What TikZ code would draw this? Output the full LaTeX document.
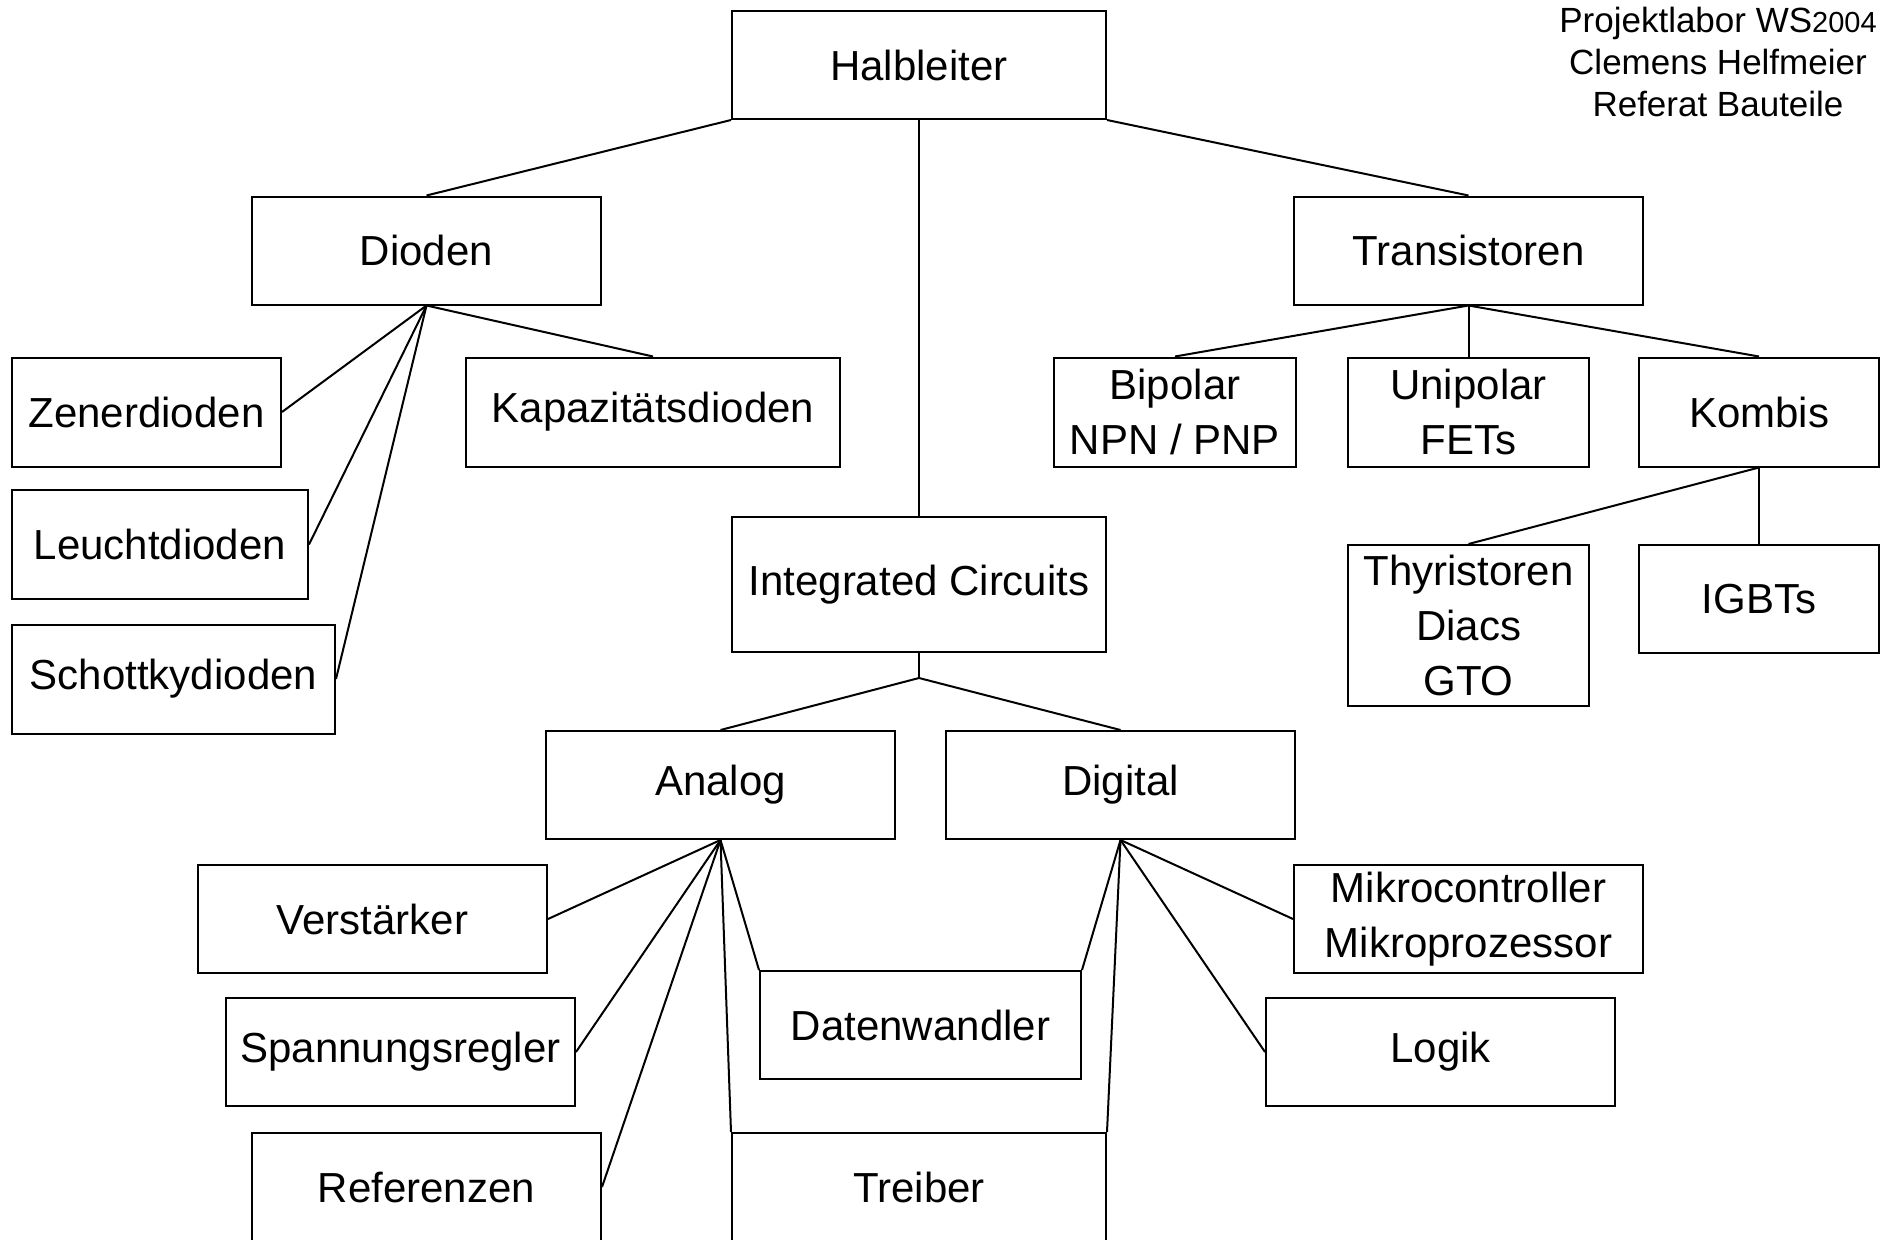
\documentclass[tikz,border=0pt]{standalone}
\usepackage{fontspec}
\setmainfont{Liberation Sans}
\begin{document}
\begin{tikzpicture}[x=1pt,y=-1pt,
  box/.style={draw, line width=2pt, rectangle, inner sep=0pt, align=center,
    font=\fontsize{42}{55}\selectfont, minimum height=108pt},
  conn/.style={line width=2pt}]
\clip (0,0) rectangle (1881,1239);
\fill[white] (0,0) rectangle (1881,1239);

\node[box, minimum width=374pt] (halb) at (919,65) {Halbleiter};
\node[box, minimum width=349pt] (dioden) at (426.5,250.5) {Dioden};
\node[box, minimum width=349pt] (trans) at (1468.5,250.5) {Transistoren};
\node[box, minimum width=269pt, minimum height=109pt] (zener) at (146.5,412) {Zenerdioden};
\node[box, minimum width=374pt, minimum height=109pt] (kapaz) at (653,412) {Kapazitätsdioden};
\node[box, minimum width=296pt, minimum height=109pt] (leucht) at (160,544.5) {Leuchtdioden};
\node[box, minimum width=323pt, minimum height=109pt] (schottky) at (173.5,679) {Schottkydioden};
\node[box, minimum width=242pt, minimum height=109pt] (bipolar) at (1175,412) {Bipolar\\NPN / PNP};
\node[box, minimum width=241pt, minimum height=109pt] (unipolar) at (1468.5,412) {Unipolar\\FETs};
\node[box, minimum width=240pt, minimum height=109pt] (kombis) at (1759,412) {Kombis};
\node[box, minimum width=374pt, minimum height=135pt] (ic) at (919,584.5) {Integrated Circuits};
\node[box, minimum width=241pt, minimum height=161pt] (thyr) at (1468.5,625.5) {Thyristoren\\Diacs\\GTO};
\node[box, minimum width=240pt] (igbt) at (1759,599) {IGBTs};
\node[box, minimum width=349pt] (analog) at (720.5,785) {Analog};
\node[box, minimum width=349pt] (digital) at (1120.5,785) {Digital};
\node[box, minimum width=349pt] (verst) at (372.5,919) {Verstärker};
\node[box, minimum width=349pt] (mikro) at (1468.5,919) {Mikrocontroller\\Mikroprozessor};
\node[box, minimum width=321pt] (daten) at (920.5,1025) {Datenwandler};
\node[box, minimum width=349pt] (spann) at (400.5,1052) {Spannungsregler};
\node[box, minimum width=349pt] (logik) at (1440.5,1052) {Logik};
\node[box, minimum width=349pt] (ref) at (426.5,1187) {Referenzen};
\node[box, minimum width=374pt] (treiber) at (919,1187) {Treiber};

\node[align=center, anchor=north, inner sep=0pt, font=\fontsize{35}{42}\selectfont]
  (stamp) at (1718,7) {Projektlabor WS{\fontsize{29}{42}\selectfont 2004}\\Clemens Helfmeier\\Referat Bauteile};

\coordinate (icb) at (919,678);

\draw[conn] (halb.south west) -- (dioden.north);
\draw[conn] (halb.south east) -- (trans.north);
\draw[conn] (halb.south) -- (ic.north);

\draw[conn] (dioden.south) -- (zener.east);
\draw[conn] (dioden.south) -- (leucht.east);
\draw[conn] (dioden.south) -- (schottky.east);
\draw[conn] (dioden.south) -- (kapaz.north);

\draw[conn] (trans.south) -- (bipolar.north);
\draw[conn] (trans.south) -- (unipolar.north);
\draw[conn] (trans.south) -- (kombis.north);

\draw[conn] (kombis.south) -- (thyr.north);
\draw[conn] (kombis.south) -- (igbt.north);

\draw[conn] (ic.south) -- (icb);
\draw[conn] (icb) -- (analog.north);
\draw[conn] (icb) -- (digital.north);

\draw[conn] (analog.south) -- (verst.east);
\draw[conn] (analog.south) -- (spann.east);
\draw[conn] (analog.south) -- (ref.east);
\draw[conn] (analog.south) -- (daten.north west);
\draw[conn] (analog.south) -- (treiber.north west);

\draw[conn] (digital.south) -- (daten.north east);
\draw[conn] (digital.south) -- (treiber.north east);
\draw[conn] (digital.south) -- (mikro.west);
\draw[conn] (digital.south) -- (logik.west);
\end{tikzpicture}
\end{document}
